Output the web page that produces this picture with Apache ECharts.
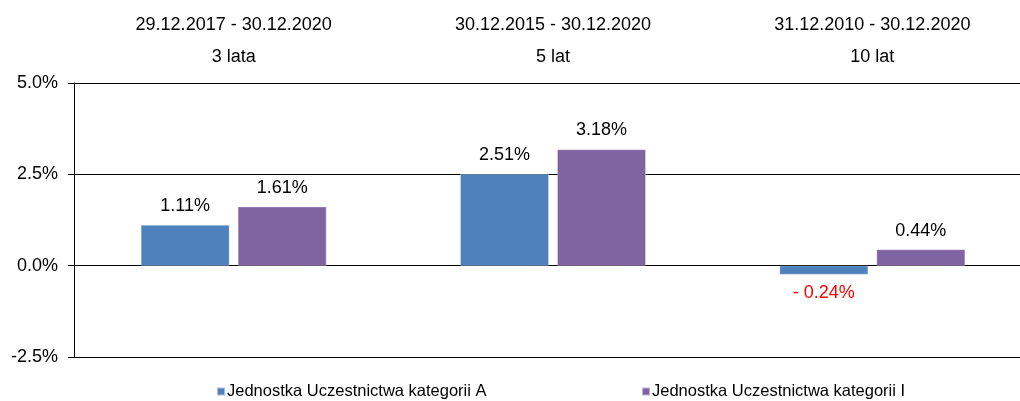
<!DOCTYPE html>
<html>
<head>
<meta charset="utf-8">
<script src="https://cdn.jsdelivr.net/npm/echarts@6/dist/echarts.min.js"></script>
<style>
    html, body { margin: 0; padding: 0; background: #fff; overflow: hidden; }
    /* the plot runs a little past the right edge of the picture, so the canvas is wider than the window */
    #chart { width: 1032px; height: 401px; }
</style>
</head>
<body>
<div id="chart"></div>
<script>
var periods = ['29.12.2017 - 30.12.2020', '30.12.2015 - 30.12.2020', '31.12.2010 - 30.12.2020'];
var spans = ['3 lata', '5 lat', '10 lat'];
var seriesNames = ['Jednostka Uczestnictwa kategorii A', 'Jednostka Uczestnictwa kategorii I'];
var valuesA = [1.11, 2.51, -0.24];
var valuesI = [1.61, 3.18, 0.44];
var colors = ['#4F81BD', '#8064A2'];

var font = "'Liberation Sans', Arial, sans-serif";
var chart = echarts.init(document.getElementById('chart'));

function toItems(values) {
    return values.map(function (v) {
        if (v < 0) {
            return {
                value: v,
                label: { position: 'bottom', distance: 10, color: '#FF0000' }
            };
        }
        return { value: v };
    });
}

function barSeries(name, values, color) {
    return {
        name: name,
        type: 'bar',
        barWidth: 88.5,
        barGap: '9.6%',
        data: toItems(values),
        itemStyle: { color: color, borderColor: 'rgba(255,255,255,0.5)', borderWidth: 0.5 },
        label: {
            show: true,
            position: 'top',
            distance: 10,
            color: '#000',
            fontFamily: font,
            fontSize: 18,
            formatter: function (p) {
                var v = p.value;
                return v < 0 ? '- ' + Math.abs(v).toFixed(2) + '%' : v.toFixed(2) + '%';
            }
        }
    };
}

var option = {
    animation: false,
    color: colors,
    grid: { left: 74, right: 0, top: 83, bottom: 44 },
    legend: [{
        left: 211,
        top: 378,
        itemWidth: 8,
        itemHeight: 8,
        icon: 'rect',
        data: [seriesNames[0]],
        textStyle: { fontFamily: font, fontSize: 16.5, color: '#000', padding: [0, 0, 0, -3] }
    }, {
        left: 636,
        top: 378,
        itemWidth: 8,
        itemHeight: 8,
        icon: 'rect',
        data: [seriesNames[1]],
        textStyle: { fontFamily: font, fontSize: 16.5, color: '#000', padding: [0, 0, 0, -3] }
    }],
    xAxis: {
        type: 'category',
        position: 'top',
        data: periods,
        axisLine: { onZero: false, lineStyle: { color: '#000', width: 1 } },
        axisTick: { show: false },
        axisLabel: {
            margin: 10,
            color: '#000',
            fontFamily: font,
            fontSize: 18,
            lineHeight: 32,
            formatter: function (val, idx) {
                return val + '\n' + spans[idx];
            }
        }
    },
    yAxis: {
        type: 'value',
        min: -2.5,
        max: 5,
        interval: 2.5,
        axisLine: { show: true, lineStyle: { color: '#000', width: 1 } },
        axisTick: { show: true, length: 6, lineStyle: { color: '#000' } },
        axisLabel: {
            margin: 16,
            color: '#000',
            fontFamily: font,
            fontSize: 18,
            formatter: function (v) { return v.toFixed(1) + '%'; }
        },
        splitLine: { show: true, lineStyle: { color: '#000', width: 1 } }
    },
    series: [
        barSeries(seriesNames[0], valuesA, colors[0]),
        barSeries(seriesNames[1], valuesI, colors[1])
    ]
};

chart.setOption(option);
</script>
</body>
</html>
